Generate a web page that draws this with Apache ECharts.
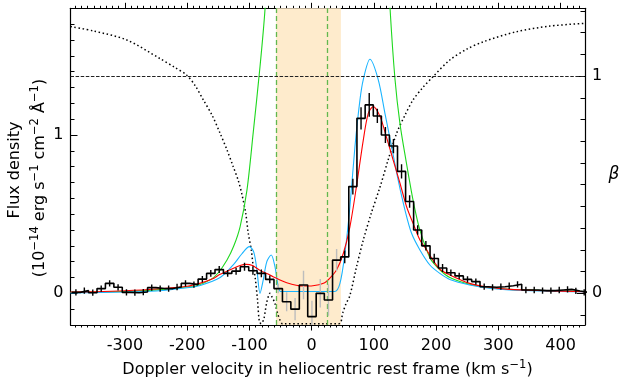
<!DOCTYPE html>
<html><head><meta charset="utf-8">
<script src="https://cdn.jsdelivr.net/npm/echarts@6/dist/echarts.min.js"></script>
<style>html,body{margin:0;padding:0;background:#fff}#c{width:619px;height:387px}</style>
</head><body><div id="c"></div>
<script>
// ---------------- data ----------------
// histogram bin edges (km/s) and flux per bin (1e-14 erg/s/cm2/A)
const binEdges = [-385.6,-372.0,-358.5,-344.9,-331.4,-317.8,-304.3,-290.8,-277.3,-263.7,
  -250.2,-236.6,-223.0,-209.5,-195.9,-182.4,-168.8,-155.3,-141.7,-128.2,
  -114.6,-101.1,-87.6,-74.0,-60.5,-46.9,-33.4,-19.8,-6.3,7.3,
  20.4,33.6,46.7,59.7,72.8,86.0,99.1,112.1,125.0,138.0,
  151.0,163.9,176.9,190.3,203.7,217.1,230.4,243.8,257.2,270.6,
  284.0,297.4,310.8,324.2,337.6,351.0,364.4,377.8,391.2,404.6,
  417.9,431.3,444.7];
const fluxBins = [0.006,0.017,0.004,0.030,0.063,0.038,0.006,0.004,0.008,0.036,
  0.030,0.030,0.040,0.063,0.055,0.090,0.126,0.150,0.126,0.140,
  0.168,0.143,0.126,0.088,0.030,-0.053,-0.100,0.053,-0.147,0.000,
  -0.042,0.210,0.230,0.674,1.105,1.190,1.120,1.000,0.930,0.770,
  0.580,0.400,0.300,0.220,0.160,0.130,0.110,0.088,0.074,0.042,
  0.038,0.042,0.048,0.057,0.021,0.021,0.017,0.017,0.021,0.025,
  0.015,0.006];
const fluxErr = [0.02,0.02,0.02,0.02,0.02,0.02,0.02,0.02,0.02,0.02,
  0.02,0.02,0.02,0.02,0.02,0.02,0.022,0.022,0.022,0.022,
  0.025,0.025,0.025,0.025,0.03,0.06,0.07,0.09,0.10,0.09,
  0.10,0.07,0.04,0.05,0.07,0.075,0.045,0.05,0.045,0.045,
  0.04,0.03,0.03,0.03,0.025,0.02,0.02,0.02,0.02,0.02,
  0.02,0.02,0.02,0.02,0.02,0.02,0.02,0.02,0.02,0.02,
  0.02,0.02];
// model curves
const redV = [-387.5,-350,-300,-250,-200,-180,-160,-147,-130,-115,-105,-95,-83,-70,-62,-40,-14,2,19,29,40,51,61.5,72,83,91,99,110,120,131,142,152.6,163,174,185,190,206,222,254,286,318,372,439.3];
const redF = [0.008,0.010,0.016,0.027,0.045,0.063,0.090,0.120,0.150,0.176,0.183,0.175,0.145,0.122,0.105,0.067,0.046,0.048,0.063,0.095,0.147,0.253,0.420,0.674,0.968,1.137,1.179,1.116,0.990,0.842,0.695,0.547,0.442,0.337,0.274,0.240,0.152,0.116,0.063,0.038,0.025,0.017,0.010];
const cyanV = [-387.5,-300,-250,-200,-179,-147,-126,-112,-100,-93,-88,-83,-78,-72,-65,-59,-54,-50,-40,37,45.5,53.5,61.5,69.6,77.6,83,93.7,107,117.8,128.5,139,150,160.6,174,190,206,222,254,286,318,439.3];
const cyanF = [0.003,0.008,0.015,0.035,0.050,0.100,0.180,0.250,0.295,0.260,0.150,0.000,0.080,0.200,0.242,0.170,0.050,0.012,0.012,0.012,0.063,0.253,0.547,0.926,1.220,1.350,1.478,1.350,1.137,0.926,0.716,0.526,0.379,0.274,0.179,0.126,0.088,0.053,0.032,0.022,0.010];
const greenV = [-387.5,-300,-250,-200,-187,-163,-150,-136,-125,-115,-104,-94,-83,-75,-70,-65,null,118,122,126,134,142,152,160,166,174,190,206,222,254,286,318,380,439.3];
const greenF = [0.006,0.012,0.022,0.040,0.045,0.085,0.130,0.210,0.300,0.420,0.650,1.010,1.430,1.790,2.200,2.800,null,2.600,2.150,1.800,1.350,1.070,0.830,0.650,0.530,0.400,0.225,0.148,0.100,0.057,0.035,0.025,0.016,0.012];
const betaV = [-387.5,-351,-297,-244,-220,-201,-187,-174,-160,-147,-136,-126,-118,-112.4,-106,-101.8,-97,-93.8,-90.9,-87,-84,-81,-77,-75,-72,-69,-67,-64,-59,-55,-51,-47,44,50,55,61.5,72,83,96,110,123,136.5,150,163,178,195,222,250,276,329,383,439.3];
const betaF = [1.228,1.208,1.166,1.081,1.040,1.005,0.955,0.890,0.820,0.736,0.660,0.583,0.520,0.460,0.370,0.276,0.200,0.122,0.076,-0.030,-0.130,-0.140,-0.120,-0.090,-0.040,-0.010,0.000,-0.015,-0.046,-0.090,-0.123,-0.140,-0.140,-0.090,-0.050,-0.010,0.120,0.245,0.370,0.490,0.615,0.736,0.820,0.890,0.945,0.997,1.074,1.125,1.158,1.204,1.230,1.243];
const betaRef = 1;
const shadeRange = [-57, 47];
const dashedV = [-56.5, 25];
// tick labels
const xTicks = [-300,-200,-100,0,100,200,300,400];
const fluxTicks = [0,1];
const betaTicks = [0,1];

// ---------------- layout ----------------
const XMIN=-387.5, XMAX=439.3, FMIN=-0.2, FMAX=1.8, BMIN=-0.146, BMAX=1.312;
const PL=70.5, PR=585, PT=8.3, PB=325;
const FONT='DejaVu Sans';
function gx(a,b){const s=(PR-PL)/(XMAX-XMIN);return {left:PL+(a-XMIN)*s,width:(b-a)*s,top:PT,height:PB-PT,outerBoundsMode:'none'};}
function gy(a,b,mn,mx){const s=(PB-PT)/(mx-mn);return {left:PL,width:PR-PL,top:PT+(mx-b)*s,height:(b-a)*s,outerBoundsMode:'none'};}
const pair=(V,F)=>V.map((v,i)=>v===null?[null,null]:[v,F[i]]);

const stepPts=[];
fluxBins.forEach((f,i)=>{stepPts.push([binEdges[i],f]);stepPts.push([binEdges[i+1],f]);});
const centers=fluxBins.map((f,i)=>(binEdges[i]+binEdges[i+1])/2);
const inShade=c=>c>=shadeRange[0]&&c<=shadeRange[1];
const errBlack=[],errGray=[];
centers.forEach((c,i)=>{const d=[c,fluxBins[i]-fluxErr[i],fluxBins[i]+fluxErr[i]];(inShade(c)?errGray:errBlack).push(d);});
function errRender(color){return function(params,api){const p1=api.coord([api.value(0),api.value(1)]);const p2=api.coord([api.value(0),api.value(2)]);
  return {type:'line',shape:{x1:p1[0],y1:p1[1],x2:p2[0],y2:p2[1]},style:{stroke:color,lineWidth:1.4}};};}

const lineAx={show:true,onZero:false,lineStyle:{color:'#000',width:1.2}};
const noLine={show:false,onZero:false};
const none={show:false};
const tickX=(len)=>({show:true,inside:false,length:len,lineStyle:{color:'#000',width:1}});
const tickY=(len)=>({show:true,inside:true,length:len,lineStyle:{color:'#000',width:1}});
const lbl={fontFamily:FONT,fontSize:16,color:'#000'};
const hid=(g)=>({gridIndex:g,type:'value',show:false,min:0,max:1,axisLine:noLine});

const option={
  animation:false,
  grid:[
    {left:PL,width:PR-PL,top:PT,height:PB-PT,outerBoundsMode:'none'},
    gx(-380,430), gx(xTicks[0],xTicks[xTicks.length-1]),
    gy(-0.1,1.8,FMIN,FMAX), gy(fluxTicks[0],fluxTicks[1],FMIN,FMAX),
    gy(-0.1,1.3,BMIN,BMAX), gy(betaTicks[0],betaTicks[1],BMIN,BMAX)
  ],
  xAxis:[
    {gridIndex:0,type:'value',min:XMIN,max:XMAX,position:'bottom',axisLine:lineAx,axisTick:none,axisLabel:none,splitLine:none},
    {gridIndex:0,type:'value',min:XMIN,max:XMAX,position:'top',axisLine:lineAx,axisTick:none,axisLabel:none,splitLine:none},
    {gridIndex:1,type:'value',min:-380,max:430,interval:10,position:'bottom',axisLine:noLine,axisTick:tickX(2.5),axisLabel:none,splitLine:none},
    {gridIndex:1,type:'value',min:-380,max:430,interval:10,position:'top',axisLine:noLine,axisTick:tickX(2.5),axisLabel:none,splitLine:none},
    {gridIndex:2,type:'value',min:xTicks[0],max:xTicks[xTicks.length-1],interval:100,position:'bottom',axisLine:noLine,axisTick:tickX(5.5),
      axisLabel:Object.assign({show:true,margin:13,formatter:v=>String(v)},lbl),splitLine:none},
    {gridIndex:2,type:'value',min:xTicks[0],max:xTicks[xTicks.length-1],interval:100,position:'top',axisLine:noLine,axisTick:tickX(5.5),axisLabel:none,splitLine:none},
    hid(3),hid(4),hid(5),hid(6)
  ],
  yAxis:[
    {gridIndex:0,type:'value',min:FMIN,max:FMAX,position:'left',axisLine:lineAx,axisTick:none,axisLabel:none,splitLine:none},
    {gridIndex:0,type:'value',min:BMIN,max:BMAX,position:'right',axisLine:lineAx,axisTick:none,axisLabel:none,splitLine:none},
    hid(1),hid(2),
    {gridIndex:3,type:'value',min:-0.1,max:1.8,interval:0.1,position:'left',axisLine:noLine,axisTick:tickY(4),axisLabel:none,splitLine:none},
    {gridIndex:4,type:'value',min:fluxTicks[0],max:fluxTicks[1],interval:1,position:'left',axisLine:noLine,axisTick:tickY(7),
      axisLabel:Object.assign({show:true,margin:7},lbl),splitLine:none},
    {gridIndex:5,type:'value',min:-0.1,max:1.3,interval:0.1,position:'right',axisLine:noLine,axisTick:tickY(4.5),axisLabel:none,splitLine:none},
    {gridIndex:6,type:'value',min:betaTicks[0],max:betaTicks[1],interval:1,position:'right',axisLine:noLine,axisTick:tickY(8),
      axisLabel:Object.assign({show:true,margin:7},lbl),splitLine:none}
  ],
  series:[
    {type:'line',xAxisIndex:0,yAxisIndex:0,z:0,data:[[shadeRange[0],0],[shadeRange[1],0]],symbol:'none',lineStyle:{opacity:0},silent:true,
      markArea:{silent:true,itemStyle:{color:'#feebcc'},data:[[{xAxis:shadeRange[0]},{xAxis:shadeRange[1]}]]},
      markLine:{silent:true,symbol:'none',label:{show:false},lineStyle:{color:'#62b84e',type:[5,3],width:1.3},data:dashedV.map(v=>({xAxis:v}))}},
    {type:'line',xAxisIndex:0,yAxisIndex:1,z:2,data:pair(betaV,betaF),symbol:'none',smooth:0.3,lineStyle:{color:'#000',width:1.5,type:[1.5,2.6]},
      markLine:{silent:true,symbol:'none',label:{show:false},lineStyle:{color:'#222',type:[3.5,1.6],width:1},data:[{yAxis:betaRef}]}},
    {type:'line',xAxisIndex:0,yAxisIndex:0,z:3,data:pair(greenV,greenF),connectNulls:false,symbol:'none',smooth:0.3,lineStyle:{color:'#1ed81e',width:1.1}},
    {type:'line',xAxisIndex:0,yAxisIndex:0,z:3,data:pair(cyanV,cyanF),symbol:'none',smooth:0.3,lineStyle:{color:'#1ab4ff',width:1.1}},
    {type:'line',xAxisIndex:0,yAxisIndex:0,z:4,data:pair(redV,redF),symbol:'none',smooth:0.3,lineStyle:{color:'#ff0000',width:1.1}},
    {type:'custom',xAxisIndex:0,yAxisIndex:0,z:5,data:errGray,renderItem:errRender('#bdbdbd'),clip:true},
    {type:'custom',xAxisIndex:0,yAxisIndex:0,z:6,data:errBlack,renderItem:errRender('#000'),clip:true},
    {type:'line',xAxisIndex:0,yAxisIndex:0,z:7,data:stepPts,symbol:'none',lineStyle:{color:'#000',width:1.6}}
  ],
  graphic:[
    {type:'text',x:327.5,y:370,style:{text:'Doppler velocity in heliocentric rest frame (km s{s|−1})',font:'16px '+FONT,fill:'#000',align:'center',verticalAlign:'middle',
      rich:{s:{fontSize:11.5,fontFamily:FONT,padding:[0,0,9,0]}}}},
    {type:'text',x:15,y:170,rotation:Math.PI/2,style:{text:'Flux density',font:'16px '+FONT,fill:'#000',align:'center',verticalAlign:'middle'}},
    {type:'text',x:40,y:178,rotation:Math.PI/2,style:{text:'(10{s|−14} erg s{s|−1} cm{s|−2} Å{s|−1})',font:'16px '+FONT,fill:'#000',align:'center',verticalAlign:'middle',
      rich:{s:{fontSize:11.5,fontFamily:FONT,padding:[0,0,9,0]}}}},
    {type:'text',x:614,y:175,style:{text:'β',font:'italic 17px '+FONT,fill:'#000',align:'center',verticalAlign:'middle'}}
  ]
};
const chart=echarts.init(document.getElementById('c'),null,{renderer:'canvas'});
chart.setOption(option);
</script></body></html>
